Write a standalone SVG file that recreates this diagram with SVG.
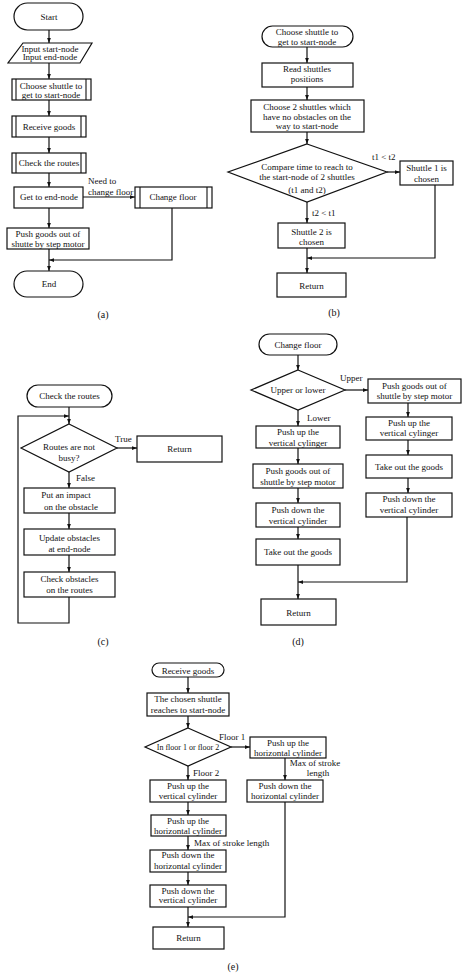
<svg xmlns="http://www.w3.org/2000/svg" width="474" height="978" viewBox="0 0 474 978">
<defs>
<marker id="ah" viewBox="0 0 8 6" refX="8" refY="3" markerWidth="5" markerHeight="4" markerUnits="userSpaceOnUse" orient="auto"><path d="M0,0 L8,3 L0,6 z" fill="#111"/></marker>
<style>
.s{fill:#fff;stroke:#111;stroke-width:1.2}
.l{fill:none;stroke:#111;stroke-width:1.1}
.c{fill:none;stroke:#111;stroke-width:1.2;marker-end:url(#ah)}
text{font-family:"Liberation Serif","Times New Roman",serif;font-size:9px;fill:#111;text-anchor:middle}
.st{text-anchor:start}
.cap{font-size:10px}
.sm{font-size:8px}
</style>
</defs>
<rect width="474" height="978" fill="#fff"/>

<!-- ===== (a) ===== -->
<g id="connectors-a">
<path class="c" d="M49,30 V43"/>
<path class="c" d="M49,63 V79"/>
<path class="c" d="M49,100 V116"/>
<path class="c" d="M49,137 V153"/>
<path class="c" d="M49,173 V187"/>
<path class="c" d="M83,197 H135"/>
<path class="c" d="M49,208 V228"/>
<path class="c" d="M49,249 V271"/>
<path class="c" d="M172,208 V260 H49"/>
<text class="st" x="88" y="184">Need to</text>
<text class="st" x="88" y="194.5">change floor</text>
</g>
<g id="a-start"><rect class="s" x="14" y="3" width="69" height="27" rx="13.5"/><text x="49" y="20">Start</text></g>
<g id="a-input"><polygon class="s" points="23,43 92,43 80,63 8,63"/><text x="50" y="51.5">Input start-node</text><text x="50" y="60">Input end-node</text></g>
<g id="a-choose"><rect class="s" x="12" y="79" width="79" height="21"/><path class="l" d="M16,79 V100 M86,79 V100"/><text x="51" y="88.5">Choose shuttle to</text><text x="51" y="98">get to start-node</text></g>
<g id="a-receive"><rect class="s" x="12" y="116" width="74" height="21"/><path class="l" d="M16,116 V137 M81,116 V137"/><text x="49" y="129.5">Receive goods</text></g>
<g id="a-check"><rect class="s" x="12" y="153" width="74" height="20"/><path class="l" d="M16,153 V173 M81,153 V173"/><text x="49" y="166">Check the routes</text></g>
<g id="a-getend"><rect class="s" x="14" y="187" width="69" height="21"/><text x="49" y="200">Get to end-node</text></g>
<g id="a-changefloor"><rect class="s" x="135" y="187" width="77" height="21"/><path class="l" d="M140,187 V208 M207,187 V208"/><text x="173" y="200">Change floor</text></g>
<g id="a-push"><rect class="s" x="7" y="228" width="82" height="21"/><text x="48" y="236.5">Push goods out of</text><text x="48" y="246.5">shutte by step motor</text></g>
<g id="a-end"><rect class="s" x="14" y="271" width="69" height="26" rx="13"/><text x="49" y="287">End</text></g>
<text class="cap" x="103" y="318">(a)</text>

<!-- ===== (b) ===== -->
<g id="connectors-b">
<path class="c" d="M307,47 V63"/>
<path class="c" d="M307,87 V100"/>
<path class="c" d="M307,132 V144"/>
<path class="c" d="M387,172 H400"/>
<path class="c" d="M307,202 V223"/>
<path class="c" d="M307,248 V273"/>
<path class="c" d="M435,185 V258 H307"/>
<text class="st" x="372" y="160">t1 &lt; t2</text>
<text class="st" x="312" y="216">t2 &lt; t1</text>
</g>
<g id="b-start"><rect class="s" x="262" y="26" width="91" height="21" rx="10.5"/><text x="307" y="35">Choose shuttle to</text><text x="307" y="44.5">get to start-node</text></g>
<g id="b-read"><rect class="s" x="262" y="63" width="91" height="24"/><text x="307" y="72">Read shuttles</text><text x="307" y="82">positions</text></g>
<g id="b-choose2"><rect class="s" x="251" y="100" width="113" height="32"/><text x="307" y="110">Choose 2 shuttles which</text><text x="307" y="119.5">have no obstacles on the</text><text x="307" y="129">way to start-node</text></g>
<g id="b-compare"><polygon class="s" points="307,144 387,172 307,202 228,172"/><text x="307" y="170">Compare time to reach to</text><text x="307" y="180">the start-node of 2 shuttles</text><text x="307" y="193">(t1 and t2)</text></g>
<g id="b-shuttle1"><rect class="s" x="400" y="161" width="53" height="24"/><text x="426.5" y="171">Shuttle 1 is</text><text x="426.5" y="182">chosen</text></g>
<g id="b-shuttle2"><rect class="s" x="278" y="223" width="67" height="25"/><text x="311.5" y="234.5">Shuttle 2 is</text><text x="311.5" y="245">chosen</text></g>
<g id="b-return"><rect class="s" x="277" y="273" width="69" height="24"/><text x="311.5" y="288.5">Return</text></g>
<text class="cap" x="334" y="316">(b)</text>

<!-- ===== (c) ===== -->
<g id="connectors-c">
<path class="c" d="M69,407 V424"/>
<path class="c" d="M69,597 V623 H18 V416 H69"/>
<path class="c" d="M117,448 H137"/>
<path class="c" d="M69,472 V488"/>
<path class="c" d="M69,513 V529"/>
<path class="c" d="M69,555 V572"/>
<text class="st" x="115" y="442">True</text>
<text class="st" x="76" y="481">False</text>
</g>
<g id="c-start"><rect class="s" x="27" y="385" width="85" height="22" rx="11"/><text x="69.5" y="399">Check the routes</text></g>
<g id="c-busy"><polygon class="s" points="69,424 117,448 69,472 21,448"/><text x="69" y="450">Routes are not</text><text x="69" y="461">busy?</text></g>
<g id="c-return"><rect class="s" x="137" y="436" width="85" height="26"/><text x="179.5" y="452">Return</text></g>
<g id="c-impact"><rect class="s" x="24" y="488" width="91" height="25"/><text x="66" y="497.5">Put an impact</text><text x="71" y="510">on the obstacle</text></g>
<g id="c-update"><rect class="s" x="24" y="529" width="91" height="26"/><text x="69.5" y="541">Update obstacles</text><text x="69.5" y="551.5">at end-node</text></g>
<g id="c-checkobs"><rect class="s" x="24" y="572" width="91" height="25"/><text x="69.5" y="581.5">Check obstacles</text><text x="69.5" y="592.5">on the routes</text></g>
<text class="cap" x="103" y="645">(c)</text>

<!-- ===== (d) ===== -->
<g id="connectors-d">
<path class="c" d="M298,355 V370"/>
<path class="c" d="M345,390 H368"/>
<path class="c" d="M408,403 V417"/>
<path class="c" d="M408,440 V455"/>
<path class="c" d="M408,478 V493"/>
<path class="c" d="M407,517 V582 H298"/>
<path class="c" d="M298,410 V426"/>
<path class="c" d="M298,448 V464"/>
<path class="c" d="M298,488 V503"/>
<path class="c" d="M298,527 V539"/>
<path class="c" d="M298,565 V599"/>
<text class="st" x="340" y="381">Upper</text>
<text class="st" x="307" y="421">Lower</text>
</g>
<g id="d-start"><rect class="s" x="259" y="334" width="78" height="21" rx="10.5"/><text x="298" y="348">Change floor</text></g>
<g id="d-decide"><polygon class="s" points="298,370 345,390 298,410 251,390"/><text x="298" y="393">Upper or lower</text></g>
<g id="d-r1"><rect class="s" x="368" y="379" width="93" height="24"/><text x="414.5" y="388.5">Push goods out of</text><text x="414.5" y="398.5">shuttle by step motor</text></g>
<g id="d-r2"><rect class="s" x="366" y="417" width="86" height="23"/><text x="409" y="425.5">Push up the</text><text x="409" y="436">vertical cylinger</text></g>
<g id="d-r3"><rect class="s" x="366" y="455" width="86" height="23"/><text x="409" y="469.5">Take out the goods</text></g>
<g id="d-r4"><rect class="s" x="366" y="493" width="86" height="24"/><text x="409" y="502">Push down the</text><text x="409" y="513">vertical cylinder</text></g>
<g id="d-l1"><rect class="s" x="256" y="426" width="84" height="22"/><text x="298" y="434.5">Push up the</text><text x="298" y="446">vertical cylinger</text></g>
<g id="d-l2"><rect class="s" x="253" y="464" width="90" height="24"/><text x="298" y="474">Push goods out of</text><text x="298" y="485">shuttle by step motor</text></g>
<g id="d-l3"><rect class="s" x="256" y="503" width="84" height="24"/><text x="298" y="513">Push down the</text><text x="298" y="523.5">vertical cylinder</text></g>
<g id="d-l4"><rect class="s" x="256" y="539" width="84" height="26"/><text x="298" y="555">Take out the goods</text></g>
<g id="d-return"><rect class="s" x="261" y="599" width="75" height="26"/><text x="298.5" y="615.5">Return</text></g>
<text class="cap" x="298" y="645">(d)</text>

<!-- ===== (e) ===== -->
<g id="connectors-e">
<path class="c" d="M188,677 V693"/>
<path class="c" d="M188,716 V728"/>
<path class="c" d="M231,747 H250"/>
<path class="c" d="M285,758 V780"/>
<path class="c" d="M285,802 V917 H188"/>
<path class="c" d="M188,766 V780"/>
<path class="c" d="M188,802 V815"/>
<path class="c" d="M188,836 V850"/>
<path class="c" d="M188,872 V885"/>
<path class="c" d="M188,907 V927"/>
<text class="st" x="219" y="740">Floor 1</text>
<text x="315" y="766">Max of stroke</text>
<text x="318" y="776">length</text>
<text class="st" x="193" y="776">Floor 2</text>
<text class="st" x="194" y="846">Max of stroke length</text>
</g>
<g id="e-start"><rect class="s" x="152" y="663" width="72" height="14" rx="7"/><text x="188" y="673.5">Receive goods</text></g>
<g id="e-chosen"><rect class="s" x="147" y="693" width="82" height="23"/><text x="188" y="702">The chosen shuttle</text><text x="188" y="712.5">reaches to start-node</text></g>
<g id="e-floor"><polygon class="s" points="188,728 231,747 188,766 145,747"/><text class="sm" x="188" y="749.5">In floor 1 or floor 2</text></g>
<g id="e-r1"><rect class="s" x="250" y="737" width="76" height="21"/><text x="288" y="745.5">Push up the</text><text x="288" y="755.5">horizontal cylinder</text></g>
<g id="e-r2"><rect class="s" x="247" y="780" width="76" height="22"/><text x="285" y="788.5">Push down the</text><text x="285" y="799">horizontal cylinder</text></g>
<g id="e-l1"><rect class="s" x="150" y="780" width="76" height="22"/><text x="188" y="788.5">Push up the</text><text x="188" y="799">vertical cylinder</text></g>
<g id="e-l2"><rect class="s" x="151" y="815" width="75" height="21"/><text x="188" y="823.5">Push up the</text><text x="188" y="833.5">horizontal cylinder</text></g>
<g id="e-l3"><rect class="s" x="150" y="850" width="76" height="22"/><text x="188" y="858">Push down the</text><text x="188" y="868.5">horizontal cylinder</text></g>
<g id="e-l4"><rect class="s" x="150" y="885" width="76" height="22"/><text x="188" y="893.5">Push down the</text><text x="188" y="903">vertical cylinder</text></g>
<g id="e-return"><rect class="s" x="153" y="927" width="71" height="22"/><text x="188.5" y="941">Return</text></g>
<text class="cap" x="233" y="970">(e)</text>
</svg>
